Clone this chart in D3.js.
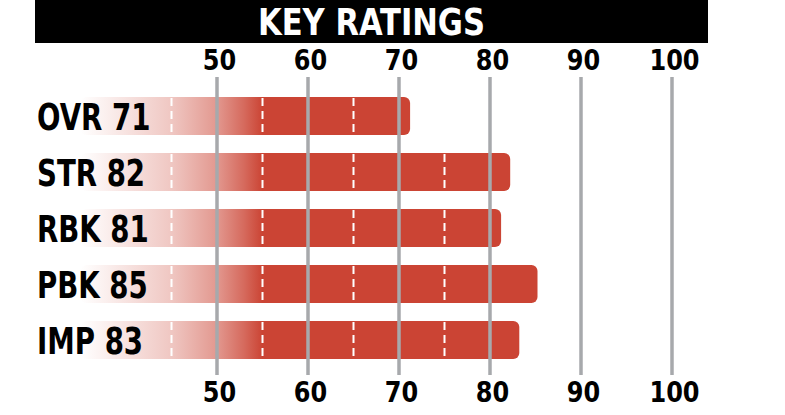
<!DOCTYPE html>
<html><head><meta charset="utf-8">
<script src="https://cdn.jsdelivr.net/npm/d3@7"></script>
<style>html,body{margin:0;padding:0;background:#fff;}svg{display:block;}</style>
</head><body>
<script>
const categories = ["OVR", "STR", "RBK", "PBK", "IMP"];
const values = [71, 82, 81, 85, 83];
const tickValues = [50, 60, 70, 80, 90, 100];
const dashValues = [45, 55, 65, 75, 85, 95];
const title = "KEY RATINGS";
const barStart = 35;

const W = 785, H = 415;
const FONT = "'DejaVu Sans Condensed','Liberation Sans Narrow',sans-serif";
const RED = "#cb4434";

const svg = d3.select("body").append("svg").attr("width", W).attr("height", H);
const x = d3.scaleLinear().domain([50, 100]).range([217, 672]);
const y = d3.scaleBand().domain(categories).range([97, 359]).paddingInner(0.32).paddingOuter(0);

function squeeze(sel, f) {
  sel.each(function () {
    const w = this.getComputedTextLength();
    d3.select(this).attr("textLength", w * f).attr("lengthAdjust", "spacingAndGlyphs");
  });
}

// gradient
const defs = svg.append("defs");
const grad = defs.append("linearGradient").attr("id", "g").attr("gradientUnits", "userSpaceOnUse")
  .attr("x1", x(barStart)).attr("x2", x(55)).attr("y1", 0).attr("y2", 0);
[[0, 0], [0.1, 0.06], [0.5, 0.3], [0.75, 0.55], [0.9, 0.8], [1, 1]].forEach(([o, a]) =>
  grad.append("stop").attr("offset", o).attr("stop-color", RED).attr("stop-opacity", a));

// title band
svg.append("rect").attr("x", 35).attr("y", 0).attr("width", 673).attr("height", 43).attr("fill", "#000");
svg.append("text").attr("x", 371.5).attr("y", 35).attr("text-anchor", "middle")
  .attr("font-family", FONT).attr("font-weight", "bold").attr("font-size", 38)
  .attr("textLength", 227).attr("lengthAdjust", "spacingAndGlyphs")
  .attr("fill", "#fff").text(title);

const rows = categories.map((c, i) => ({ c, v: values[i] }));

// bars
svg.append("g").selectAll("rect").data(rows).join("rect")
  .attr("x", x(barStart)).attr("y", d => y(d.c))
  .attr("width", d => x(d.v) - x(barStart) + 2).attr("height", y.bandwidth())
  .attr("rx", 6).attr("fill", "url(#g)");

// dashed white lines inside bars
const dashData = [];
rows.forEach(r => dashValues.forEach(v => { if (v < r.v - 1) dashData.push({ c: r.c, v }); }));
svg.append("g").selectAll("line").data(dashData).join("line")
  .attr("x1", d => x(d.v)).attr("x2", d => x(d.v))
  .attr("y1", d => y(d.c) + 1).attr("y2", d => y(d.c) + y.bandwidth())
  .attr("stroke", "#fff").attr("stroke-width", 2).attr("stroke-dasharray", "8,5");

// gridlines
svg.append("g").selectAll("line").data(tickValues).join("line")
  .attr("x1", d => x(d)).attr("x2", d => x(d)).attr("y1", 77).attr("y2", 375)
  .attr("stroke", "#a7a9ac").attr("stroke-width", 3.5);

// tick labels top & bottom
[70, 402].forEach(yy => {
  const g = svg.append("g").attr("transform", `translate(2,${yy})`)
    .call(d3.axisBottom(x).tickValues(tickValues).tickSize(0).tickPadding(0));
  g.select(".domain").remove();
  const t = g.selectAll("text").attr("dy", 0).attr("y", 0)
    .attr("font-family", FONT).attr("font-weight", "bold").attr("font-size", 29).attr("fill", "#000");
  squeeze(t, 0.92);
});

// row labels
const labels = svg.append("g").selectAll("text").data(rows).join("text")
  .attr("x", 37).attr("y", d => y(d.c) + y.bandwidth() / 2 + 14)
  .attr("font-family", FONT).attr("font-weight", "bold").attr("font-size", 37).attr("fill", "#000")
  .text(d => `${d.c} ${d.v}`);
squeeze(labels, 0.83);
</script>
</body></html>
